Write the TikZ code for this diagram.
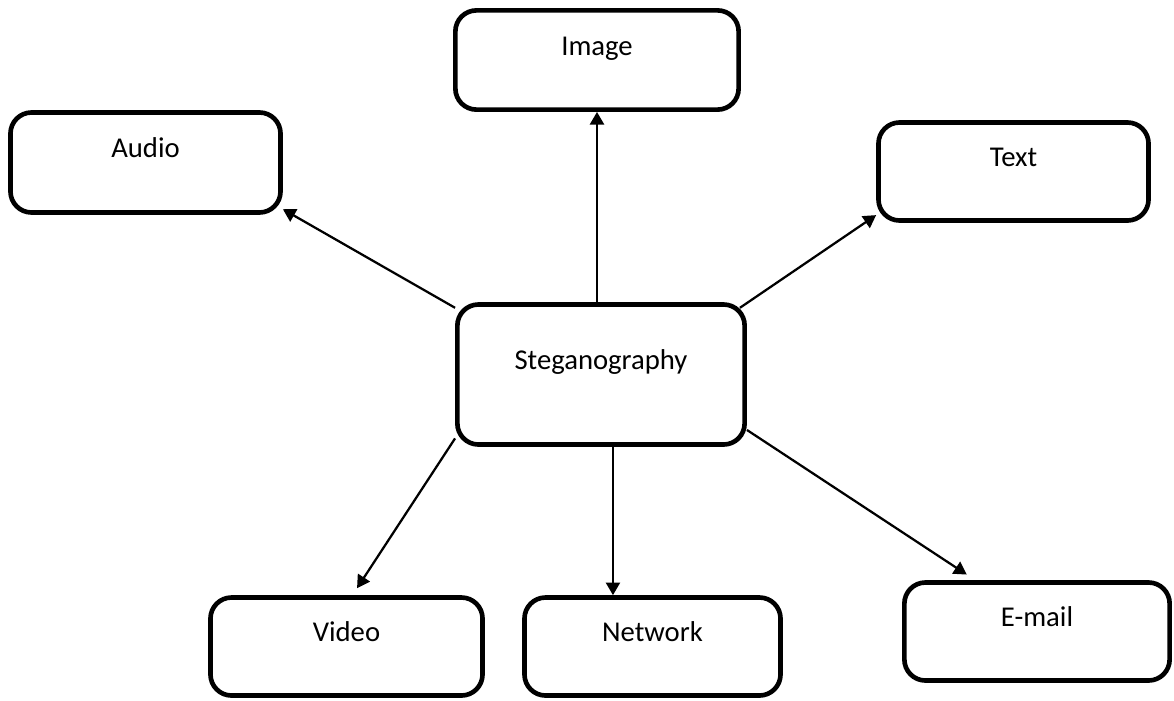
\documentclass[tikz,border=0pt]{standalone}
\usepackage{fontspec}
\setmainfont{Carlito}
\usetikzlibrary{arrows.meta}

\begin{document}
\begin{tikzpicture}[
  x=0.025cm, y=-0.025cm,
  font=\fontsize{20.4}{24}\selectfont,
  blk/.style={draw, rounded corners=15pt, line width=3.3pt,
              minimum width=6.75cm, minimum height=2.45cm,
              align=center, inner sep=0pt,
              text height=14pt, text depth=21pt},
  arr/.style={-{Triangle[length=9pt, width=10pt]}, line width=1.6pt}
]
\useasboundingbox (0,0) rectangle (1174,700);

\node[blk, minimum width=7.18cm, minimum height=3.5cm] (stego) at (601, 374.5) {Steganography};

\node[blk, minimum width=7.08cm, minimum height=2.48cm] (image) at (597, 60) {Image};
\node[blk, minimum height=2.5cm] (audio) at (145.5, 162.5) {Audio};
\node[blk] (text)    at (1013.5, 171.5) {Text};
\node[blk, minimum width=6.8cm]  (video)   at (346.5, 646.5) {Video};
\node[blk, minimum width=6.4cm]  (network) at (652.5, 646.5) {Network};
\node[blk, minimum width=6.63cm] (email)   at (1037, 631.5) {E-mail};

\draw[arr] (image.south |- stego.north) -- (image.south);
\draw[arr] ([yshift=-4pt]stego.north west) -- ([yshift=4pt]audio.south east);
\draw[arr] ([xshift=-5pt, yshift=-4pt]stego.north east) -- ([yshift=5.5pt]text.south west);
\draw[arr] ([yshift=6pt]stego.south west) -- ([xshift=7.5pt, yshift=5pt]video.north);
\draw[arr] ([xshift=8.5pt]stego.south) -- ([xshift=8.5pt]stego.south |- network.north);
\draw[arr] ([yshift=12pt]stego.south east) -- ([xshift=-50pt, yshift=4pt]email.north);
\end{tikzpicture}
\end{document}
